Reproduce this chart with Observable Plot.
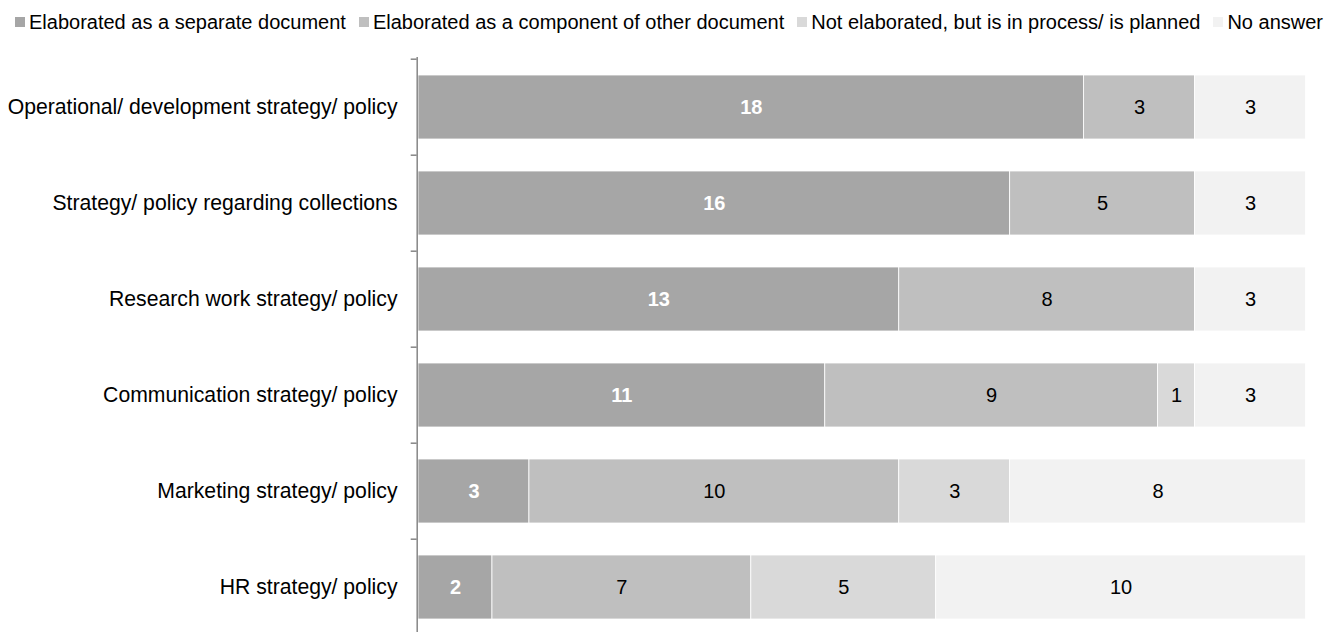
<!DOCTYPE html>
<html>
<head>
<meta charset="utf-8">
<script src="https://cdn.jsdelivr.net/npm/d3@7"></script>
<script src="https://cdn.jsdelivr.net/npm/@observablehq/plot@0.6"></script>
<style>
  html, body { margin: 0; padding: 0; background: #fff; }
  body { width: 1324px; height: 632px; overflow: hidden; font-family: "Liberation Sans", Arial, sans-serif; }
  #legend { height: 40px; box-sizing: border-box; padding: 12px 0 0 15px; display: flex; align-items: flex-start; gap: 13px; font-size: 20px; line-height: 20px; color: #000; white-space: nowrap; }
  #legend .item { display: flex; align-items: center; gap: 4px; height: 20px; }
  #legend .sw { width: 10px; height: 10px; display: inline-block; }
  svg { display: block; }
</style>
</head>
<body>
<div id="legend"></div>
<div id="chart"></div>
<script>
// Strategy documents held by institutions, counts per document type
const categories = [
  "Operational/ development strategy/ policy",
  "Strategy/ policy regarding collections",
  "Research work strategy/ policy",
  "Communication strategy/ policy",
  "Marketing strategy/ policy",
  "HR strategy/ policy"
];
const seriesNames = [
  "Elaborated as a separate document",
  "Elaborated as a component of other document",
  "Not elaborated, but is in process/ is planned",
  "No answer"
];
const separateDoc  = [18, 16, 13, 11, 3, 2];
const componentDoc = [3, 5, 8, 9, 10, 7];
const planned      = [0, 0, 0, 1, 3, 5];
const noAnswer     = [3, 3, 3, 3, 8, 10];
const seriesColors = ["#a6a6a6", "#bfbfbf", "#d9d9d9", "#f2f2f2"];

const seriesValues = [separateDoc, componentDoc, planned, noAnswer];
const rows = categories.flatMap((category, i) =>
  seriesNames.map((series, j) => ({category, series, value: seriesValues[j][i]}))
).filter(d => d.value > 0);

// Legend
const legend = document.getElementById("legend");
seriesNames.forEach((name, j) => {
  const item = document.createElement("div");
  item.className = "item";
  const sw = document.createElement("span");
  sw.className = "sw";
  sw.style.background = seriesColors[j];
  const label = document.createElement("span");
  label.textContent = name;
  item.append(sw, label);
  legend.append(item);
});

const bandStep = 96.6;
const plotTop = 17;
const stackOpts = {x: "value", y: "category", order: null};

const chart = Plot.plot({
  width: 1324,
  height: 592,
  marginTop: plotTop,
  marginBottom: 0,
  marginLeft: 418,
  marginRight: 18.5,
  style: {fontFamily: "Liberation Sans, Arial, sans-serif", background: "#fff"},
  x: {domain: [0, 24], axis: null},
  y: {domain: categories, range: [plotTop, plotTop + bandStep * categories.length], paddingInner: 0.337, paddingOuter: 0.1685, label: null},
  color: {domain: seriesNames, range: seriesColors},
  marks: [
    Plot.barX(rows, Plot.stackX({...stackOpts, fill: "series", stroke: "#fff", strokeWidth: 0.8})),
    Plot.ruleX([0], {stroke: "#868686", strokeWidth: 1.5, dx: -1.3}),
    Plot.ruleY(categories, {y: d => d, x1: 0, x2: 0, insetLeft: -6, dx: -1.3, dy: -bandStep / 2, stroke: "#868686", strokeWidth: 1.5}),
    Plot.axisY({tickSize: 0, tickPadding: 21, fontSize: 21.2, fill: "#000"}),
    Plot.text(rows, Plot.stackX({...stackOpts, text: d => d.series === seriesNames[0] ? String(d.value) : "", fill: "#fff", fontWeight: "bold", fontSize: 20})),
    Plot.text(rows, Plot.stackX({...stackOpts, text: d => d.series === seriesNames[0] ? "" : String(d.value), fill: "#000", fontSize: 20}))
  ]
});
document.getElementById("chart").append(chart);
</script>
</body>
</html>
